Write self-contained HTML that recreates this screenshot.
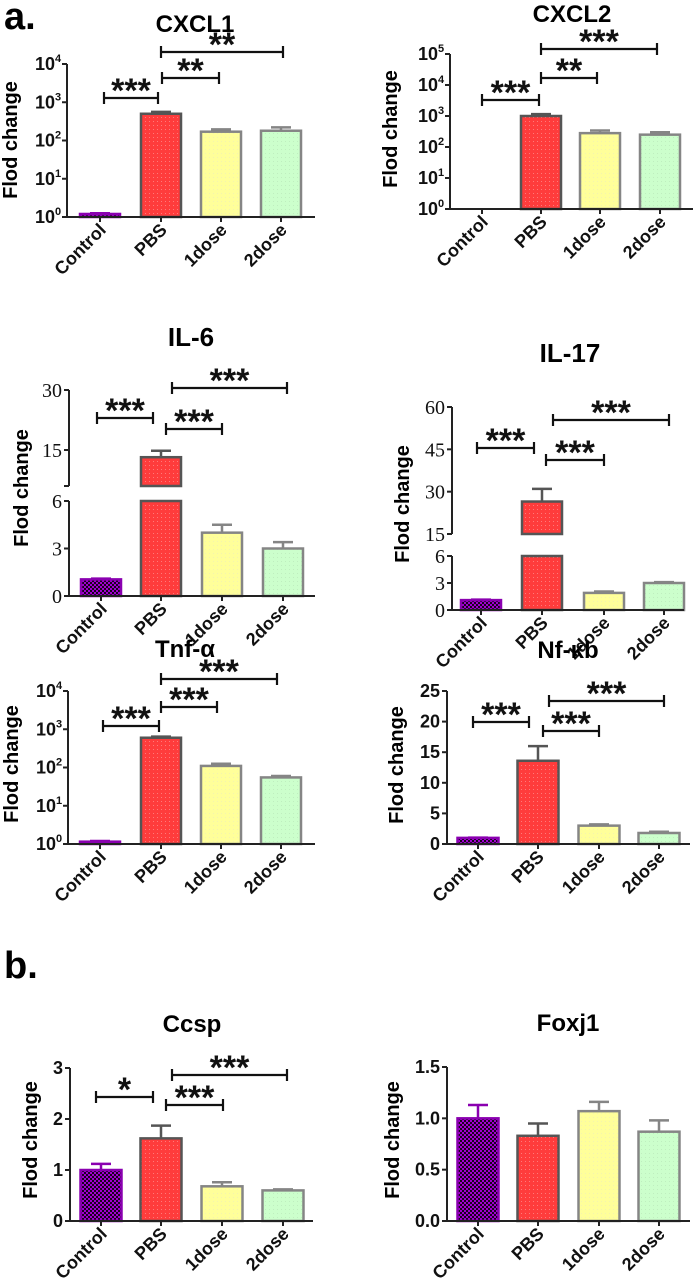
<!DOCTYPE html>
<html><head><meta charset="utf-8"><title>Fold change panels</title>
<style>
html,body{margin:0;padding:0;background:#fff;}
svg{display:block;font-family:"Liberation Sans",Arial,sans-serif;}
</style></head>
<body>
<svg id="fig" width="697" height="1282" viewBox="0 0 697 1282" xmlns="http://www.w3.org/2000/svg">
<defs>
<pattern id="pCtrl" width="4" height="4" patternUnits="userSpaceOnUse">
<rect width="4" height="4" fill="#a000d0"/><rect width="2" height="2" fill="#1a001f"/><rect x="2" y="2" width="2" height="2" fill="#1a001f"/>
</pattern>
<pattern id="pPBS" width="4" height="4" patternUnits="userSpaceOnUse">
<rect width="4" height="4" fill="#ff3c3c"/><rect x="1" y="1" width="1" height="1" fill="#ff7a7a"/>
</pattern>
<pattern id="p1" width="4" height="4" patternUnits="userSpaceOnUse">
<rect width="4" height="4" fill="#ffff9a"/><rect x="1" y="1" width="1" height="1" fill="#f3f3b0"/>
</pattern>
<pattern id="p2" width="4" height="4" patternUnits="userSpaceOnUse">
<rect width="4" height="4" fill="#ccffcc"/><rect x="1" y="1" width="1" height="1" fill="#bfeebf"/>
</pattern>
</defs>
<text x="4" y="29" font-size="38" font-weight="bold">a.</text>
<text x="4" y="978" font-size="38" font-weight="bold">b.</text>
</svg>
<script>
// ---- data ----
const categories = ["Control","PBS","1dose","2dose"];
const cxcl1Values = [1.2, 500, 170, 180];
const cxcl1Errors = [1.25, 560, 195, 220];
const cxcl2Values = [null, 1000, 280, 250];
const cxcl2Errors = [null, 1150, 340, 300];
const il6Values = [1.05, 13.2, 4.0, 3.0];
const il6Errors = [1.1, 14.8, 4.5, 3.4];
const il17Values = [1.1, 26.5, 1.9, 3.0];
const il17Errors = [1.15, 31, 2.05, 3.1];
const tnfValues = [1.15, 600, 110, 55];
const tnfErrors = [1.2, 640, 125, 60];
const nfkbValues = [1.0, 13.6, 3.0, 1.8];
const nfkbErrors = [1.05, 16.0, 3.2, 2.0];
const ccspValues = [1.0, 1.62, 0.68, 0.6];
const ccspErrors = [1.12, 1.87, 0.76, 0.62];
const foxj1Values = [1.0, 0.83, 1.07, 0.87];
const foxj1Errors = [1.13, 0.95, 1.16, 0.98];
const logTicks4 = [0,1,2,3,4];
const logTicks5 = [0,1,2,3,4,5];
const il6Ticks = [0,3,6,15,30];
const il17Ticks = [0,3,6,15,30,45,60];
const nfkbTicks = [0,5,10,15,20,25];
const ccspTicks = [0,1,2,3];
const foxj1Ticks = [0,0.5,1.0,1.5];
const foxj1TickLabels = ["0.0","0.5","1.0","1.5"];
// significance: [fromIndex, toIndex, stars]
const cxcl1Sig = [[0,1,"***"],[1,2,"**"],[1,3,"**"]];
const cxcl2Sig = [[0,1,"***"],[1,2,"**"],[1,3,"***"]];
const il6Sig = [[0,1,"***"],[1,2,"***"],[1,3,"***"]];
const il17Sig = [[0,1,"***"],[1,2,"***"],[1,3,"***"]];
const tnfSig = [[0,1,"***"],[1,2,"***"],[1,3,"***"]];
const nfkbSig = [[0,1,"***"],[1,2,"***"],[1,3,"***"]];
const ccspSig = [[0,1,"*"],[1,2,"***"],[1,3,"***"]];

// ---- layout ----
const NS = "http://www.w3.org/2000/svg";
const svg = document.getElementById("fig");
const fills = ["url(#pCtrl)","url(#pPBS)","url(#p1)","url(#p2)"];
const strokes = ["#8a00b0","#555555","#858585","#858585"];
function el(tag, attrs, parent){
  const e = document.createElementNS(NS, tag);
  for (const k in attrs) e.setAttribute(k, attrs[k]);
  (parent||svg).appendChild(e);
  return e;
}
function makeScale(L){
  if (L.log) {
    return v => L.base - Math.log10(v) * (L.base - L.top) / L.decades;
  }
  return v => {
    for (const s of L.segs) {
      if (v <= s.hi + 1e-9 || s === L.segs[L.segs.length-1]) {
        const vv = Math.max(v, s.lo);
        return s.y0 - (vv - s.lo) * (s.y0 - s.y1) / (s.hi - s.lo);
      }
    }
  };
}
function panel(P){
  const g = el("g", {});
  
  
  const y = makeScale(P);
  const t = el("text", {x:P.titleX, y:P.titleY, "font-size":P.titleSize||24, "font-weight":"bold", "text-anchor":"middle"}, g);
  t.textContent = P.title;
  
  
  const yl = el("text", {x:0, y:0, "font-size":20, "font-weight":"bold", "text-anchor":"middle", "dominant-baseline":"central", transform:`translate(${P.ylX},${P.ylY}) rotate(-90)`}, g);
  yl.textContent = "Flod change";
  
  
  // bars
  P.values.forEach((v,i)=>{
    if (v === null) return;
    const cx = P.centers[i], hw = P.barW/2;
    const bg = el("g", {}, g);
    
    
    const ev = P.errors[i];
    const segs = P.log ? [null] : P.segs;
    segs.forEach(s=>{
      let y0, y1;
      if (!s) { y0 = P.base; y1 = y(v); }
      else { if (v <= s.lo) return; y0 = s.y0; y1 = y(Math.min(v, s.hi)); if (v > s.hi) { y1 = s.y1; } }
      el("rect", {x:cx-hw, y:y1, width:P.barW, height:Math.max(y0-y1,0.5), fill:fills[i], stroke:strokes[i], "stroke-width":2.5}, bg);
    });
    if (ev !== null && ev > v) {
      const ye = y(ev);
      el("line", {x1:cx, x2:cx, y1:y(v), y2:ye, stroke:strokes[i], "stroke-width":2.5}, bg);
      el("line", {x1:cx-10, x2:cx+10, y1:ye, y2:ye, stroke:strokes[i], "stroke-width":2.5}, bg);
    }
  });
  // y axis
  const axG = el("g", {stroke:"#222", "stroke-width":2}, g);
  
  
  if (P.log) {
    el("line", {x1:P.axisX, x2:P.axisX, y1:P.top, y2:P.base}, axG);
  } else {
    P.segs.forEach(s=>{
      el("line", {x1:P.axisX, x2:P.axisX, y1:s.y1, y2:s.y0}, axG);
      el("line", {x1:P.axisX-5, x2:P.axisX, y1:s.y0, y2:s.y0}, axG);
    });
  }
  P.ticks.forEach((tv,k)=>{
    const ty = P.log ? P.base - tv*(P.base-P.top)/P.decades : y(tv);
    el("line", {x1:P.axisX-5, x2:P.axisX, y1:ty, y2:ty}, axG);
    const tl = el("text", {x:P.axisX-7, y:ty+6, "font-size":18, "font-weight":"bold", "text-anchor":"end", stroke:"none", fill:"#111"}, g);
    if (P.serif) { tl.setAttribute("font-family", "Liberation Serif, serif"); tl.setAttribute("font-weight","normal"); tl.setAttribute("font-size","20"); tl.setAttribute("y", ty+7); }
    
    
    if (P.log) {
      tl.textContent = "10";
      const sup = el("tspan", {dy:-8, "font-size":11}, tl);
      sup.textContent = String(tv);
      tl.setAttribute("text-anchor","start");
      tl.setAttribute("x", P.axisX-32);
    } else {
      tl.textContent = P.tickLabels ? P.tickLabels[k] : String(tv);
    }
  });
  // x axis
  const xa = el("g", {stroke:"#222", "stroke-width":2}, g);
  
  
  el("line", {x1:P.axisX, x2:P.right, y1:P.base, y2:P.base}, xa);
  P.centers.forEach((cx,i)=>{
    el("line", {x1:cx, x2:cx, y1:P.base, y2:P.base+5}, xa);
    const xl = el("text", {x:0, y:0, "font-size":18, "font-weight":"bold", "text-anchor":"end", fill:"#111", stroke:"none", transform:`translate(${cx+7},${P.base+14}) rotate(-45)`}, g);
    xl.textContent = categories[i];
    
    
  });
  // significance
  (P.sig||[]).forEach((s,k)=>{
    const b = P.brackets[k];
    const sg = el("g", {}, g);
    
    
    el("line", {x1:b[0], x2:b[1], y1:b[2], y2:b[2], stroke:"#111", "stroke-width":2.2}, sg);
    el("line", {x1:b[0], x2:b[0], y1:b[2]-6, y2:b[2]+6, stroke:"#111", "stroke-width":2.2}, sg);
    el("line", {x1:b[1], x2:b[1], y1:b[2]-6, y2:b[2]+6, stroke:"#111", "stroke-width":2.2}, sg);
    const st = el("text", {x:(b[0]+b[1])/2, y:b[2]+4, "font-size":34, "font-weight":"bold", "text-anchor":"middle", fill:"#111"}, sg);
    st.textContent = s[2];
  });
}

// CXCL1
panel({name:"cxcl1", title:"CXCL1", titleX:195, titleY:32, log:true, decades:4, top:64, base:217, axisX:67, right:315,
  centers:[100,161,221,281], barW:40, values:cxcl1Values, errors:cxcl1Errors, ticks:logTicks4, ylX:11, ylY:140,
  sig:cxcl1Sig, brackets:[[104,158,98],[162,219,78],[161,283,52]]});
// CXCL2
panel({name:"cxcl2", title:"CXCL2", titleX:572, titleY:22, log:true, decades:5, top:54, base:209, axisX:450, right:693,
  centers:[482,541,600,660], barW:40, values:cxcl2Values, errors:cxcl2Errors, ticks:logTicks5, ylX:391, ylY:129,
  sig:cxcl2Sig, brackets:[[482,539,100],[541,597,78],[541,657,49]]});
// IL-6
panel({name:"il6", title:"IL-6", titleX:191, titleY:346, titleSize:26, serif:true, segs:[{lo:0,hi:6,y0:596,y1:501},{lo:6,hi:30,y0:486,y1:390}],
  base:596, axisX:69, right:315, centers:[101,161,222,283], barW:40, values:il6Values, errors:il6Errors, ticks:il6Ticks,
  ylX:22, ylY:488, sig:il6Sig, brackets:[[97,153,418],[166,222,429],[172,287,388]]});
// IL-17
panel({name:"il17", title:"IL-17", titleX:570, titleY:362, titleSize:26, serif:true, segs:[{lo:0,hi:6,y0:610,y1:556},{lo:15,hi:60,y0:534,y1:407}],
  base:610, axisX:452, right:684, centers:[481,542,604,664], barW:40, values:il17Values, errors:il17Errors, ticks:il17Ticks,
  ylX:403, ylY:504, sig:il17Sig, brackets:[[477,534,448],[546,604,460],[553,669,420]]});
// Tnf-a
panel({name:"tnf", title:"Tnf-\u03b1", titleX:185, titleY:657, log:true, decades:4, top:691, base:844, axisX:68, right:315,
  centers:[100,161,221,281], barW:40, values:tnfValues, errors:tnfErrors, ticks:logTicks4, ylX:12, ylY:764,
  sig:tnfSig, brackets:[[103,159,726],[161,217,707],[161,277,679]]});
// Nf-kb
panel({name:"nfkb", title:"Nf-\u03bab", titleX:568, titleY:658, segs:[{lo:0,hi:25,y0:844,y1:691}],
  base:844, axisX:447, right:690, centers:[478,538,599,659], barW:41, values:nfkbValues, errors:nfkbErrors, ticks:nfkbTicks,
  ylX:397, ylY:765, sig:nfkbSig, brackets:[[473,529,722],[543,599,731],[549,664,701]]});
// Ccsp
panel({name:"ccsp", title:"Ccsp", titleX:192, titleY:1032, segs:[{lo:0,hi:3,y0:1221,y1:1068}],
  base:1221, axisX:70, right:313, centers:[101,161,222,283], barW:41, values:ccspValues, errors:ccspErrors, ticks:ccspTicks,
  ylX:31, ylY:1140, sig:ccspSig, brackets:[[96,153,1097],[166,223,1105],[172,287,1075]]});
// Foxj1
panel({name:"foxj1", title:"Foxj1", titleX:568, titleY:1031, segs:[{lo:0,hi:1.5,y0:1221,y1:1067}],
  base:1221, axisX:447, right:690, centers:[478,538,599,659], barW:41, values:foxj1Values, errors:foxj1Errors, ticks:foxj1Ticks,
  tickLabels:foxj1TickLabels, ylX:393, ylY:1140, sig:[], brackets:[]});
</script>
</body></html>
